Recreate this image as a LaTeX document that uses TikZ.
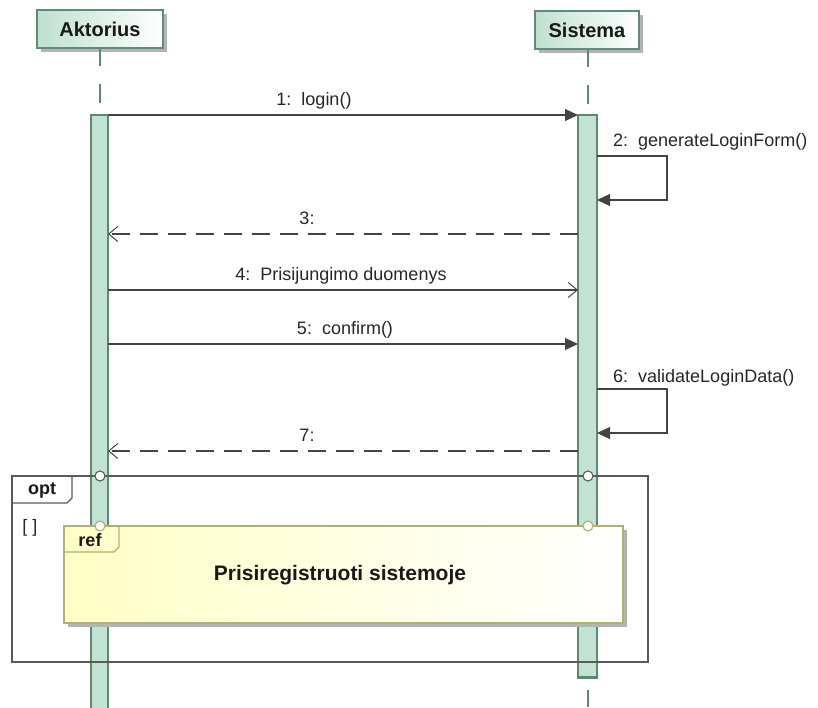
\documentclass[tikz,border=0pt]{standalone}
\usepackage{fontspec}
\setmainfont{Liberation Sans}
\usetikzlibrary{arrows.meta}
\definecolor{msgline}{HTML}{444444}
\definecolor{headfill}{HTML}{BFE0D0}
\definecolor{headborder}{HTML}{5E8C76}
\definecolor{barfill}{HTML}{C2E2D2}
\definecolor{barborder}{HTML}{5A8A72}
\definecolor{shadowgray}{HTML}{B4B4B4}
\definecolor{framegray}{HTML}{5A5A5A}
\definecolor{refborder}{HTML}{B2B070}
\definecolor{reffill}{HTML}{FFFFC6}
\tikzset{
  lbl/.style={font=\fontsize{18}{20}\selectfont, anchor=base, inner sep=0pt, text=black!85},
  boldlbl/.style={font=\fontsize{20}{22}\selectfont\bfseries, inner sep=0pt, text=black!90},
  headbox/.style={draw=headborder, line width=1.4pt, left color=headfill, right color=white, inner sep=0pt},
  bar/.style={draw=barborder, fill=barfill, line width=1.2pt},
  lifeline/.style={draw=barborder, line width=1.2pt},
  call/.style={draw=msgline, line width=1.1pt, -{Triangle[length=13pt,width=12pt]}},
  async/.style={draw=msgline, line width=1.1pt, -{Straight Barb[length=9pt,width=15pt,line width=1pt]}},
  reply/.style={async, dash pattern=on 18pt off 10pt},
  gate/.style={circle, draw=framegray, fill=white, line width=1.1pt, minimum size=10pt, inner sep=0pt},
  refgate/.style={gate, draw=refborder}
}
\begin{document}
\begin{tikzpicture}[x=1pt,y=-1pt]
\useasboundingbox (0,0) rectangle (818,707);

% lifeline heads with drop shadows
\fill[shadowgray] (41,14) rectangle (167,52);
\node[headbox, minimum width=126pt, minimum height=38pt] (aktHead) at (100,29) {};
\node[boldlbl] (aktName) at (100,29) {Aktorius};
\fill[shadowgray] (539,15) rectangle (643,53);
\node[headbox, minimum width=104pt, minimum height=38pt] (sysHead) at (587,30) {};
\node[boldlbl] (sysName) at (587,30) {Sistema};

% dashed lifelines
\coordinate (aL0) at (100,48);  \coordinate (aL1) at (100,66);
\coordinate (aL2) at (100,84);  \coordinate (aL3) at (100,103);
\coordinate (sL0) at (588,49);  \coordinate (sL1) at (588,67);
\coordinate (sL2) at (588,85);  \coordinate (sL3) at (588,104);
\coordinate (sL4) at (588,690); \coordinate (sL5) at (588,707);
\draw[lifeline] (aL0) -- (aL1) (aL2) -- (aL3);
\draw[lifeline] (sL0) -- (sL1) (sL2) -- (sL3) (sL4) -- (sL5);

% activation bars
\filldraw[bar] (91,115) rectangle (108,712);
\filldraw[bar] (578,115) rectangle (597,678);
\draw[barborder, line width=2.4pt] (578,677) -- (597,677);

% messages
\coordinate (a1) at (108,115); \coordinate (s1) at (578,115);
\draw[call] (a1) -- (s1);
\node[lbl] (m1) at (314,105) {1:\ \ login()};

\coordinate (s2a) at (597,156); \coordinate (s2b) at (597,200);
\draw[call] (s2a) -- (667,156) -- (667,200) -- (s2b);
\node[lbl, anchor=base west] (m2) at (613,146) {2:\ \ generateLoginForm()};

\coordinate (s3) at (578,234); \coordinate (a3) at (108,234);
\draw[reply] (s3) -- (a3);
\node[lbl] (m3) at (307,224) {3:};

\coordinate (a4) at (108,290); \coordinate (s4) at (578,290);
\draw[async] (a4) -- (s4);
\node[lbl] (m4) at (341,280) {4:\ \ Prisijungimo duomenys};

\coordinate (a5) at (108,344); \coordinate (s5) at (578,344);
\draw[call] (a5) -- (s5);
\node[lbl] (m5) at (345,334) {5:\ \ confirm()};

\coordinate (s6a) at (597,389); \coordinate (s6b) at (597,433);
\draw[call] (s6a) -- (667,389) -- (667,433) -- (s6b);
\node[lbl, anchor=base west] (m6) at (613,382) {6:\ \ validateLoginData()};

\coordinate (s7) at (578,451); \coordinate (a7) at (108,451);
\draw[reply] (s7) -- (a7);
\node[lbl] (m7) at (307,441) {7:};

% opt combined fragment
\draw[framegray, line width=1.1pt] (12,476) rectangle (648,662);
\draw[framegray, line width=1.1pt] (12,503) -- (67,503) -- (72,498) -- (72,476);
\node[boldlbl, font=\fontsize{18}{20}\selectfont\bfseries] (optTag) at (42,490) {opt};
\node[lbl, anchor=center] (guard) at (30,528) {[ ]};
\node[gate] (g1) at (100,476) {};
\node[gate] (g2) at (588,476) {};

% interaction use (ref)
\fill[shadowgray] (68,530) rectangle (627,627);
\shade[left color=reffill, right color=white] (64,526) rectangle (623,623);
\draw[refborder, line width=1.2pt] (64,526) rectangle (623,623);
\draw[refborder, line width=1.2pt] (64,552) -- (114,552) -- (119,547) -- (119,526);
\node[boldlbl, font=\fontsize{18}{20}\selectfont\bfseries] (refTag) at (90,540) {ref};
\node[boldlbl, font=\fontsize{21}{23}\selectfont\bfseries] (refText) at (340,575) {Prisiregistruoti sistemoje};
\node[refgate] (r1) at (100,526) {};
\node[refgate] (r2) at (588,526) {};
\end{tikzpicture}
\end{document}
